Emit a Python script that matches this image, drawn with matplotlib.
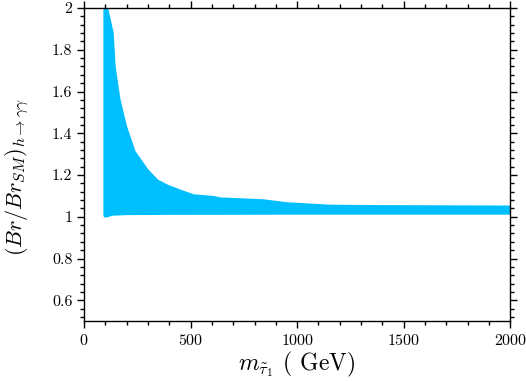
import matplotlib
matplotlib.use("Agg")
import matplotlib.pyplot as plt
from matplotlib.ticker import MultipleLocator, FuncFormatter

plt.rcParams["font.family"] = "serif"
plt.rcParams["font.serif"] = ["cmr10"]
plt.rcParams["mathtext.fontset"] = "cm"
plt.rcParams["axes.formatter.use_mathtext"] = True

# envelope of the scanned points
m_upper = [100, 105, 129, 138, 161, 192, 232, 294, 341, 388, 451, 513, 606,
           638, 841, 951, 1155, 1400, 1700, 2000]
br_upper = [1.99, 1.99, 1.88, 1.72, 1.56, 1.43, 1.31, 1.22, 1.17, 1.145,
            1.12, 1.098, 1.09, 1.083, 1.074, 1.06, 1.048, 1.046, 1.045, 1.044]
m_lower = [100, 110, 130, 200, 400, 1000, 2000]
br_lower = [1.006, 1.008, 1.015, 1.018, 1.019, 1.02, 1.02]

color = "#00bfff"

fig = plt.figure(figsize=(5.26, 3.81), dpi=100)
ax = fig.add_axes([0.160, 0.157, 0.810, 0.822])

xs = m_upper + m_lower[::-1]
ys = br_upper + br_lower[::-1]
ax.fill(xs, ys, facecolor=color, edgecolor=color, lw=3, joinstyle="round")

ax.set_xlim(0, 2000)
ax.set_ylim(0.5, 2)
ax.xaxis.set_major_locator(MultipleLocator(500))
ax.xaxis.set_minor_locator(MultipleLocator(100))
ax.yaxis.set_major_locator(MultipleLocator(0.2))
ax.yaxis.set_minor_locator(MultipleLocator(0.04))
ax.tick_params(which="both", direction="out", top=True, right=True,
               labelsize=11.5, width=1)
ax.tick_params(which="major", length=5)
ax.tick_params(which="minor", length=3)
ax.yaxis.set_major_formatter(FuncFormatter(lambda v, p: f"{v:g}"))
for s in ax.spines.values():
    s.set_linewidth(1)

ax.set_xlabel(r"$m_{\tilde{\tau}_1}$ ( GeV)", fontsize=17, labelpad=1)
ax.set_ylabel(r"$(Br/Br_{SM})_{h\rightarrow\gamma\gamma}$", fontsize=16)
ax.yaxis.set_label_coords(-0.125, 0.46)

fig.savefig("out.png", dpi=100)
